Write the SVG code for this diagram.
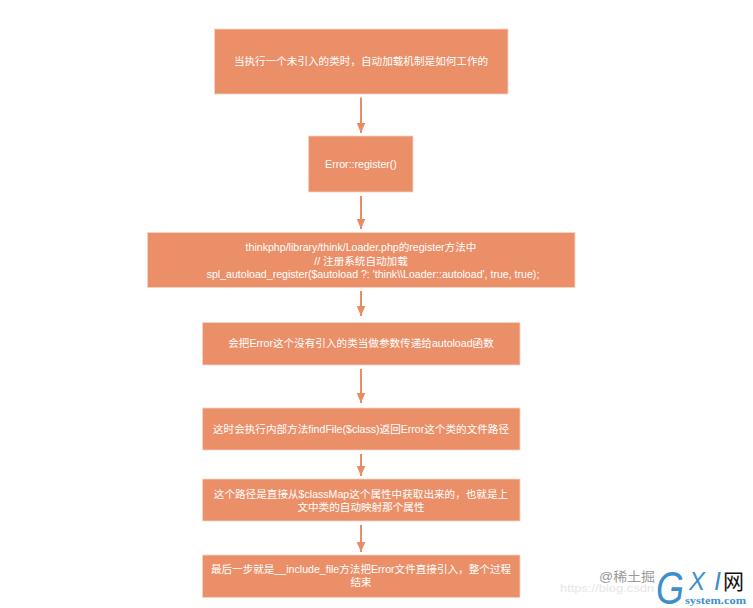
<svg xmlns="http://www.w3.org/2000/svg" width="753" height="608" viewBox="0 0 753 608">
<style>
.box{fill:#eb8f69;stroke:#f6d5c5;stroke-width:.8}
.t{fill:#fff;font:10.6px "Liberation Sans","Noto Sans CJK SC",sans-serif;text-anchor:middle;dominant-baseline:central}
.c{stroke:#e98b65;stroke-width:2;fill:none;marker-end:url(#a)}
</style>
<defs><marker id="a" markerUnits="userSpaceOnUse" markerWidth="11" markerHeight="9" refX="10.500" refY="4.500" orient="auto"><path d="M0 0L10.500 4.500L0 9Z" fill="#e98b65"/></marker></defs>
<rect width="753" height="608" fill="#fff"/>
<g id="connectors">
<path class="c" d="M361 97.500V133"/>
<path class="c" d="M361 196V229"/>
<path class="c" d="M361 291V316"/>
<path class="c" d="M361 369V403"/>
<path class="c" d="M361 454V476"/>
<path class="c" d="M361 525V552"/>
</g>
<g id="n1"><rect class="box" x="214.500" y="29" width="293.500" height="65"/><text class="t" x="361" y="61">当执行一个未引入的类时，自动加载机制是如何工作的</text></g>
<g id="n2"><rect class="box" x="308.500" y="136" width="104.500" height="56"/><text class="t" x="361" y="164">Error::register()</text></g>
<g id="n3"><rect class="box" x="147.500" y="232.500" width="427.500" height="55"/><text class="t" x="361" y="247">thinkphp/library/think/Loader.php的register方法中</text><text class="t" x="361" y="260.500">// 注册系统自动加载</text><text class="t" x="373" y="273.500">spl_autoload_register($autoload ?: 'think\\Loader::autoload', true, true);</text></g>
<g id="n4"><rect class="box" x="202.500" y="322.500" width="317.500" height="42.500"/><text class="t" x="361" y="343">会把Error这个没有引入的类当做参数传递给autoload函数</text></g>
<g id="n5"><rect class="box" x="202.500" y="408" width="317.500" height="42"/><text class="t" x="361" y="429">这时会执行内部方法findFile($class)返回Error这个类的文件路径</text></g>
<g id="n6"><rect class="box" x="202.500" y="479" width="317.500" height="42"/><text class="t" x="361" y="494">这个路径是直接从$classMap这个属性中获取出来的，也就是上</text><text class="t" x="361" y="506.500">文中类的自动映射那个属性</text></g>
<g id="n7"><rect class="box" x="202.500" y="555" width="317.500" height="42.500"/><text class="t" x="361" y="569">最后一步就是__include_file方法把Error文件直接引入，整个过程</text><text class="t" x="361" y="582">结束</text></g>
<g id="watermark" font-family="'Liberation Sans','Noto Sans CJK SC',sans-serif">
<text x="560" y="592" font-size="11.500" fill="#e6e6e6" textLength="94" lengthAdjust="spacingAndGlyphs">https://blog.csdn</text>
<text x="599" y="581" font-size="13" fill="#999" textLength="56" lengthAdjust="spacingAndGlyphs">@稀土掘</text>
<text x="656" y="604" font-size="46" font-style="italic" fill="#3d8fcb" textLength="28" lengthAdjust="spacingAndGlyphs">G</text>
<text x="689" y="590" font-size="25" font-style="italic" fill="#3d8fcb" textLength="16" lengthAdjust="spacingAndGlyphs">X</text>
<text x="714" y="590" font-size="25" font-style="italic" fill="#3d8fcb">I</text>
<text x="723" y="589" font-size="21" fill="#111" font-family="'Noto Sans CJK SC',sans-serif">网</text>
<text x="685" y="603.500" font-size="11" font-weight="bold" fill="#3d8fcb" font-family="'Liberation Serif',serif" textLength="61" lengthAdjust="spacingAndGlyphs">system.com</text>
</g>
</svg>
